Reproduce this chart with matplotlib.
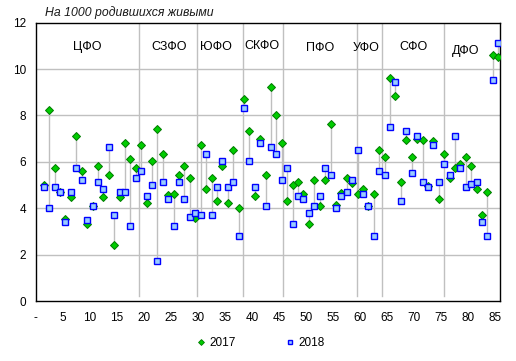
import numpy as np
import matplotlib
matplotlib.use("Agg")
import matplotlib.pyplot as plt
from matplotlib.lines import Line2D

plt.rcParams['font.family'] = ['Liberation Sans', 'DejaVu Sans']

# Data: infant mortality per 1000 live births, by region (1..85)
v2017 = [5.0, 8.24, 5.75, 4.7, 3.55, 4.5, 7.12, 5.6, 3.33, 4.1,
         5.82, 4.5, 5.43, 2.4, 4.5, 6.81, 6.12, 5.73, 6.72, 4.22,
         6.05, 7.41, 6.34, 4.58, 4.61, 5.43, 5.82, 5.3, 3.58, 6.72,
         4.83, 5.3, 4.31, 5.82, 4.22, 6.51, 4.0, 8.7, 7.31, 4.52,
         6.98, 5.43, 9.21, 8.02, 6.81, 4.31, 5.0, 5.13, 4.61, 3.32,
         5.22, 4.1, 5.22, 7.63, 4.14, 4.64, 5.3, 5.09, 4.62, 4.83,
         4.1, 4.61, 6.51, 6.21, 9.61, 8.84, 5.13, 6.95, 6.21, 6.98,
         6.94, 4.95, 6.88, 4.4, 6.34, 5.3, 5.73, 5.91, 6.21, 5.82,
         4.83, 3.7, 4.7, 10.61, 10.52]
v2018 = [4.9, 4.0, 4.9, 4.7, 3.42, 4.7, 5.73, 5.2, 3.48, 4.1,
         5.13, 4.83, 6.65, 3.7, 4.7, 4.7, 3.23, 5.3, 5.6, 4.53,
         5.0, 1.73, 5.13, 4.4, 3.23, 5.13, 4.4, 3.62, 3.79, 3.7,
         6.34, 3.7, 4.91, 6.03, 4.91, 5.13, 2.8, 8.31, 6.05, 4.91,
         6.81, 4.1, 6.65, 6.34, 5.22, 5.73, 3.32, 4.53, 4.4, 3.79,
         4.1, 4.53, 5.73, 5.43, 4.0, 4.53, 4.7, 5.22, 6.51, 4.61,
         4.1, 2.8, 5.6, 5.43, 7.5, 9.44, 4.31, 7.34, 5.52, 7.12,
         5.13, 4.91, 6.74, 5.13, 5.91, 5.43, 7.12, 5.73, 4.91, 5.04,
         5.13, 3.4, 2.8, 9.52, 11.12]
region_num = np.arange(1, 86)
districts = ['ЦФО', 'СЗФО', 'ЮФО', 'СКФО', 'ПФО', 'УФО', 'СФО', 'ДФО']
district_label_x = [9.6, 24.7, 33.4, 41.8, 52.6, 61.0, 69.8, 79.4]
district_label_y = [10.95, 10.95, 10.95, 11.0, 10.9, 10.9, 10.95, 10.8]
separators = [19.15, 29.9, 38.37, 45.77, 59.33, 64.07, 75.42]
xticks = list(range(0, 90, 5))
xticklabels = ['-'] + [str(t) for t in xticks[1:]]
yticks = list(range(0, 13, 2))

x = region_num + 0.5

fig = plt.figure(figsize=(5.16, 3.61), dpi=100)
ax = fig.add_axes([0.0692, 0.1662, 0.9004, 0.7709])

ax.set_xlim(0, 85.88)
ax.set_ylim(0, 12)

for t in yticks[1:-1]:
    ax.axhline(t, color='#C0C0C0', lw=1.0, zorder=0)

for s in separators:
    ax.plot([s, s], [0.2, 12], color='#C0C0C0', lw=1.0, zorder=1)

lo = np.minimum(v2017, v2018)
hi = np.maximum(v2017, v2018)
ax.vlines(x, lo, hi, colors='#BFBFBF', lw=1.0, zorder=2)

green_face = '#00CC00'
green_edge = '#007A00'
blue_face = '#99CCFF'
blue_edge = '#0000FF'
ax.plot(x, v2017, linestyle='none', marker='D', ms=4.0, mfc=green_face,
        mec=green_edge, mew=0.7, zorder=3)
ax.plot(x, v2018, linestyle='none', marker='s', ms=4.3, mfc=blue_face,
        mec=blue_edge, mew=1.0, zorder=4)

for name, lx, ly in zip(districts, district_label_x, district_label_y):
    ax.text(lx, ly, name, ha='center', va='center', fontsize=9, color='black')

ax.set_xticks(xticks)
ax.set_xticklabels(xticklabels, fontsize=8.5)
ax.set_yticks(yticks)
ax.set_yticklabels([str(t) for t in yticks], fontsize=8.5)
ax.tick_params(axis='both', length=0)
ax.tick_params(axis='x', pad=8)
ax.tick_params(axis='y', pad=7)
for sp in ax.spines.values():
    sp.set_color('black')
    sp.set_linewidth(1.0)

fig.text(45 / 516, 1 - 13 / 361, 'На 1000 родившихся живыми', fontsize=8.8,
         style='italic', ha='left', va='center', color='#1A1A1A')

handles = [
    Line2D([], [], linestyle='none', marker='D', ms=3.0, mfc=green_face,
           mec=green_edge, mew=0.6),
    Line2D([], [], linestyle='none', marker='s', ms=3.4, mfc=blue_face,
           mec=blue_edge, mew=1.0),
]
fig.legend(handles, ['2017', '2018'], loc='center', bbox_to_anchor=(0.505, 0.05),
           ncol=2, frameon=False, fontsize=8.5, handlelength=0.8,
           handletextpad=0.3, columnspacing=4.2)

fig.savefig('out.png', dpi=100)
